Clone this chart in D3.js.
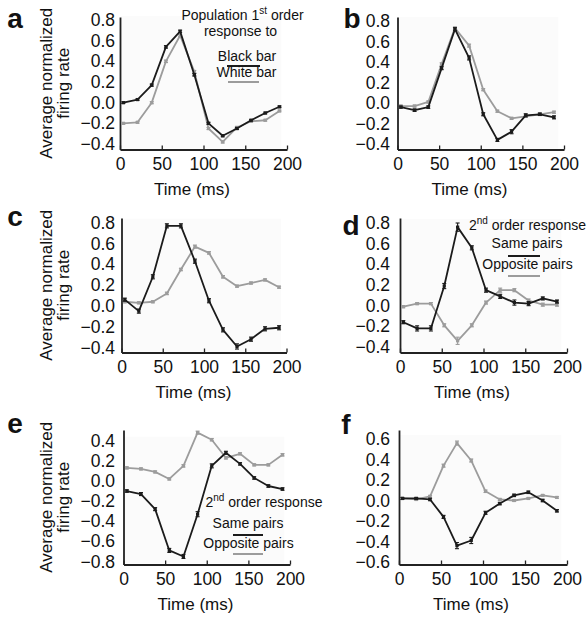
<!DOCTYPE html>
<html><head><meta charset="utf-8">
<script src="https://cdn.jsdelivr.net/npm/d3@7"></script>
<style>
html,body{margin:0;padding:0;background:#fff;}
svg{display:block;}
text{font-family:"Liberation Sans",Arial,Helvetica,sans-serif;fill:#111;}
</style></head>
<body>
<svg id="chart" width="587" height="623"></svg>
<script>
// ---------- DATA ----------
const timesLeft  = [4, 21, 38, 55, 72, 89, 106, 123, 140, 157, 174, 191];
const timesRight = [4, 20.5, 37, 53, 69, 86, 103, 120, 137, 154, 171, 188];
const xTicks = [0, 50, 100, 150, 200];
const yTicksAD = [-0.4, -0.2, 0.0, 0.2, 0.4, 0.6, 0.8];
const yTicksE  = [-0.8, -0.6, -0.4, -0.2, 0.0, 0.2, 0.4];
const yTicksF  = [-0.6, -0.4, -0.2, 0.0, 0.2, 0.4, 0.6];

const aBlack = [0.00, 0.03, 0.17, 0.54, 0.69, 0.27, -0.20, -0.32, -0.25, -0.17, -0.10, -0.04];
const aGray  = [-0.20, -0.19, 0.00, 0.40, 0.65, 0.30, -0.25, -0.38, -0.24, -0.18, -0.17, -0.08];
const aBlackErr = [0.008, 0.008, 0.01, 0.012, 0.012, 0.012, 0.01, 0.01, 0.01, 0.008, 0.008, 0.008];
const aGrayErr  = [0.008, 0.008, 0.01, 0.012, 0.012, 0.012, 0.01, 0.01, 0.01, 0.008, 0.008, 0.008];

const bBlack = [-0.04, -0.07, -0.04, 0.34, 0.72, 0.44, -0.11, -0.36, -0.28, -0.12, -0.11, -0.14];
const bGray  = [-0.03, -0.03, 0.01, 0.38, 0.73, 0.56, 0.13, -0.08, -0.15, -0.13, -0.11, -0.09];
const bBlackErr = [0.01, 0.012, 0.012, 0.015, 0.015, 0.02, 0.015, 0.015, 0.02, 0.015, 0.012, 0.015];
const bGrayErr  = [0.01, 0.01, 0.01, 0.012, 0.012, 0.015, 0.01, 0.01, 0.01, 0.01, 0.01, 0.01];

const cBlack = [0.06, -0.05, 0.28, 0.77, 0.77, 0.43, 0.05, -0.23, -0.39, -0.32, -0.22, -0.21];
const cGray  = [0.04, 0.03, 0.04, 0.12, 0.35, 0.57, 0.51, 0.28, 0.19, 0.22, 0.25, 0.18];
const cBlackErr = [0.015, 0.02, 0.02, 0.02, 0.02, 0.02, 0.02, 0.02, 0.025, 0.02, 0.02, 0.02];
const cGrayErr  = [0.01, 0.01, 0.01, 0.012, 0.012, 0.015, 0.012, 0.012, 0.01, 0.01, 0.01, 0.01];

const dBlack = [-0.16, -0.22, -0.22, 0.19, 0.76, 0.56, 0.15, 0.09, 0.03, 0.02, 0.07, 0.04];
const dGray  = [-0.01, 0.02, 0.02, -0.19, -0.34, -0.19, 0.03, 0.15, 0.15, 0.05, 0.01, 0.01];
const dBlackErr = [0.015, 0.025, 0.025, 0.025, 0.04, 0.02, 0.02, 0.02, 0.025, 0.02, 0.015, 0.015];
const dGrayErr  = [0.01, 0.01, 0.01, 0.015, 0.035, 0.015, 0.015, 0.02, 0.015, 0.015, 0.015, 0.015];

const eBlack = [-0.10, -0.13, -0.28, -0.69, -0.75, -0.33, 0.15, 0.28, 0.17, 0.03, -0.05, -0.08];
const eGray  = [0.13, 0.12, 0.09, 0.02, 0.15, 0.48, 0.41, 0.23, 0.27, 0.16, 0.16, 0.26];
const eBlackErr = [0.012, 0.015, 0.015, 0.02, 0.02, 0.025, 0.02, 0.015, 0.012, 0.012, 0.012, 0.012];
const eGrayErr  = [0.01, 0.01, 0.01, 0.01, 0.012, 0.015, 0.012, 0.012, 0.01, 0.01, 0.01, 0.012];

const fBlack = [0.02, 0.02, 0.01, -0.16, -0.44, -0.39, -0.12, -0.03, 0.05, 0.08, 0.00, -0.10];
const fGray  = [0.02, 0.01, 0.04, 0.34, 0.56, 0.39, 0.09, 0.01, 0.00, 0.02, 0.05, 0.03];
const fBlackErr = [0.01, 0.01, 0.012, 0.015, 0.03, 0.03, 0.015, 0.012, 0.012, 0.012, 0.012, 0.012];
const fGrayErr  = [0.008, 0.008, 0.01, 0.015, 0.02, 0.015, 0.012, 0.01, 0.008, 0.008, 0.008, 0.008];

// ---------- LAYOUT ----------
const panels = [
  {id:"a", times:timesLeft,  black:aBlack, gray:aGray, bErr:aBlackErr, gErr:aGrayErr, yTicks:yTicksAD,
   x0:120, x1:287, axisY:149.5, top:17, cal:[-0.4,144,0.8,20], left:true, lx:15, ly:28},
  {id:"b", times:timesRight, black:bBlack, gray:bGray, bErr:bBlackErr, gErr:bGrayErr, yTicks:yTicksAD,
   x0:397.5, x1:564, axisY:149.5, top:17, cal:[-0.4,144,0.8,21], left:false, lx:352, ly:28},
  {id:"c", times:timesLeft,  black:cBlack, gray:cGray, bErr:cBlackErr, gErr:cGrayErr, yTicks:yTicksAD,
   x0:121.5, x1:286.5, axisY:352.5, top:218, cal:[-0.4,347.5,0.8,222.7], left:true, lx:15, ly:226},
  {id:"d", times:timesRight, black:dBlack, gray:dGray, bErr:dBlackErr, gErr:dGrayErr, yTicks:yTicksAD,
   x0:400, x1:567, axisY:352.5, top:218, cal:[-0.4,347,0.8,223], left:false, lx:351, ly:235},
  {id:"e", times:timesLeft,  black:eBlack, gray:eGray, bErr:eBlackErr, gErr:eGrayErr, yTicks:yTicksE,
   x0:123.5, x1:290, axisY:564.5, top:430, cal:[-0.8,561.5,0.4,440.7], left:true, lx:15, ly:433},
  {id:"f", times:timesRight, black:fBlack, gray:fGray, bErr:fBlackErr, gErr:fGrayErr, yTicks:yTicksF,
   x0:399, x1:567, axisY:564.5, top:430, cal:[-0.6,562,0.6,439], left:false, lx:346, ly:434}
];

const BLACK = "#1b1b1b", GRAY = "#9c9c9c";
const svg = d3.select("#chart");
const fmt = d3.format(".1f");
const TICK_FS = 17.5, TITLE_FS = 17;

panels.forEach(p => {
  const g = svg.append("g");
  const x = d3.scaleLinear().domain([0, 200]).range([p.x0, p.x1]);
  const cal = d3.scaleLinear().domain([p.cal[0], p.cal[2]]).range([p.cal[1], p.cal[3]]);
  const y = d3.scaleLinear().domain([cal.invert(p.axisY), cal.invert(p.top)]).range([p.axisY, p.top]);

  // faint plot background
  g.append("rect").attr("x", p.x0 + 1).attr("y", y(p.yTicks[p.yTicks.length-1]) - 4)
    .attr("width", x(192) - p.x0).attr("height", p.axisY - y(p.yTicks[p.yTicks.length-1]) + 3)
    .attr("fill", "#fbfbfb");

  // axes
  const xa = g.append("g").attr("transform", `translate(0,${p.axisY})`)
    .call(d3.axisBottom(x).tickValues(xTicks).tickSizeInner(-4).tickSizeOuter(0).tickPadding(8).tickFormat(d3.format("d")));
  xa.select(".domain").attr("stroke", "#222").attr("stroke-width", 1.8);
  xa.selectAll(".tick line").attr("stroke", "#222").attr("stroke-width", 1.3);
  xa.selectAll("text").attr("font-size", TICK_FS).attr("fill", "#111");

  const ya = g.append("g").attr("transform", `translate(${p.x0},0)`)
    .call(d3.axisLeft(y).tickValues(p.yTicks).tickSize(0).tickPadding(p.left ? p.x0 - 115 : p.x0 - 390).tickFormat(fmt));
  ya.select(".domain").attr("stroke", "#222").attr("stroke-width", 1.8);
  ya.selectAll("text").attr("font-size", TICK_FS).attr("fill", "#111");
  ya.selectAll("text").text(d => fmt(d).replace("-", "\u2212"));

  // axis title
  g.append("text").attr("x", p.x0 + 72).attr("y", p.axisY + 45)
    .attr("text-anchor", "middle").attr("font-size", TITLE_FS).text("Time (ms)");

  if (p.left) {
    const cy = (p.top + p.axisY) / 2;
    g.append("text").attr("transform", `translate(51.5,${cy}) rotate(-90)`)
      .attr("text-anchor", "middle").attr("font-size", TITLE_FS).text("Average normalized");
    g.append("text").attr("transform", `translate(68.5,${cy}) rotate(-90)`)
      .attr("text-anchor", "middle").attr("font-size", TITLE_FS).text("firing rate");
  }

  // panel letter
  g.append("text").attr("x", p.lx).attr("y", p.ly).attr("text-anchor", "middle")
    .attr("font-family", "'Open Sans','DejaVu Sans',sans-serif").attr("font-weight", 700)
    .attr("font-size", 28).text(p.id);

  // series
  const series = [
    {vals: p.gray, err: p.gErr, color: GRAY},
    {vals: p.black, err: p.bErr, color: BLACK}
  ];
  series.forEach(s => {
    const pts = s.vals.map((v, i) => ({t: p.times[i], v, e: s.err[i]}));
    g.append("path").datum(pts)
      .attr("d", d3.line().x(d => x(d.t)).y(d => y(d.v)))
      .attr("fill", "none").attr("stroke", s.color).attr("stroke-width", 1.8)
      .attr("stroke-linejoin", "round");
    const eb = g.append("g").attr("stroke", s.color).attr("stroke-width", 1.1);
    pts.forEach(d => {
      const cx = x(d.t), y1 = y(d.v + d.e), y2 = y(d.v - d.e);
      eb.append("line").attr("x1", cx).attr("x2", cx).attr("y1", y1).attr("y2", y2);
      eb.append("line").attr("x1", cx - 2).attr("x2", cx + 2).attr("y1", y1).attr("y2", y1);
      eb.append("line").attr("x1", cx - 2).attr("x2", cx + 2).attr("y1", y2).attr("y2", y2);
    });
    g.append("g").selectAll("rect").data(pts).join("rect")
      .attr("x", d => x(d.t) - 1.6).attr("y", d => y(d.v) - 1.6)
      .attr("width", 3.2).attr("height", 3.2).attr("fill", s.color);
  });
});

// ---------- LEGENDS ----------
function sup(t, base, supTxt, rest) {
  t.append("tspan").text(base);
  t.append("tspan").attr("font-size", 10).attr("dy", -6).text(supTxt);
  t.append("tspan").attr("dy", 6).text(rest);
}
const lg = svg.append("g");
// panel a
sup(lg.append("text").attr("x", 242.5).attr("y", 20).attr("text-anchor", "middle").attr("font-size", 14),
    "Population 1", "st", " order");
lg.append("text").attr("x", 240.5).attr("y", 36).attr("text-anchor", "middle").attr("font-size", 14).text("response to");
lg.append("text").attr("x", 247).attr("y", 61).attr("text-anchor", "middle").attr("font-size", 14).text("Black bar");
lg.append("line").attr("x1", 227).attr("x2", 260).attr("y1", 66).attr("y2", 66).attr("stroke", BLACK).attr("stroke-width", 2);
lg.append("text").attr("x", 246.5).attr("y", 77).attr("text-anchor", "middle").attr("font-size", 14).text("White bar");
lg.append("line").attr("x1", 228).attr("x2", 259).attr("y1", 82).attr("y2", 82).attr("stroke", GRAY).attr("stroke-width", 2);
// panel d
sup(lg.append("text").attr("x", 527.5).attr("y", 230).attr("text-anchor", "middle").attr("font-size", 14),
    "2", "nd", " order response");
lg.append("text").attr("x", 527).attr("y", 248).attr("text-anchor", "middle").attr("font-size", 14).text("Same pairs");
lg.append("line").attr("x1", 508).attr("x2", 540).attr("y1", 256).attr("y2", 256).attr("stroke", BLACK).attr("stroke-width", 2);
lg.append("text").attr("x", 527.5).attr("y", 269).attr("text-anchor", "middle").attr("font-size", 14).text("Opposite pairs");
lg.append("line").attr("x1", 508).attr("x2", 540).attr("y1", 276).attr("y2", 276).attr("stroke", GRAY).attr("stroke-width", 2);
// panel e
sup(lg.append("text").attr("x", 264).attr("y", 507).attr("text-anchor", "middle").attr("font-size", 14),
    "2", "nd", " order response");
lg.append("text").attr("x", 248).attr("y", 528).attr("text-anchor", "middle").attr("font-size", 14).text("Same pairs");
lg.append("line").attr("x1", 233).attr("x2", 263).attr("y1", 535).attr("y2", 535).attr("stroke", BLACK).attr("stroke-width", 2);
lg.append("text").attr("x", 248.5).attr("y", 548).attr("text-anchor", "middle").attr("font-size", 14).text("Opposite pairs");
lg.append("line").attr("x1", 233).attr("x2", 263).attr("y1", 554).attr("y2", 554).attr("stroke", GRAY).attr("stroke-width", 2);
</script>
</body></html>
